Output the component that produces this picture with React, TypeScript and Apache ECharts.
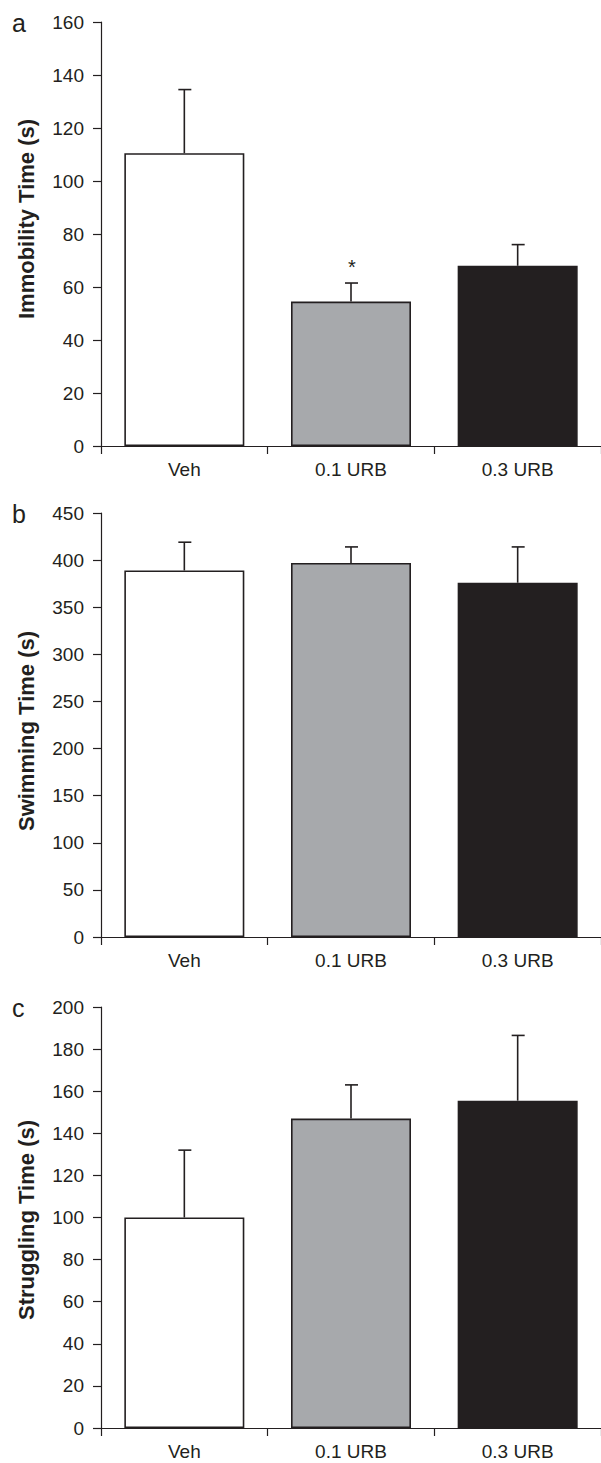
import React, { useEffect, useRef } from "react";
import * as echarts from "echarts";

const categories = ["Veh", "0.1 URB", "0.3 URB"];
const barColors = ["#ffffff", "#a7a9ac", "#231f20"];

const immobilityMean = [110.5, 54.5, 68];
const immobilitySem = [24, 7, 8];
const immobilitySig = ["", "*", ""];

const swimmingMean = [389, 397, 376];
const swimmingSem = [30, 17, 38];
const swimmingSig = ["", "", ""];

const strugglingMean = [100, 147, 155.5];
const strugglingSem = [32, 16, 31];
const strugglingSig = ["", "", ""];

const panelLetters = ["a", "b", "c"];
const yTitles = ["Immobility Time (s)", "Swimming Time (s)", "Struggling Time (s)"];
const yMax = [160, 450, 200];
const yInterval = [20, 50, 20];

const INK = "#231f20";
const FONT = "Liberation Sans, Arial, sans-serif";

export default function App() {
  const ref = useRef<HTMLDivElement>(null);

  useEffect(() => {
    if (!ref.current) return;
    const chart = echarts.init(ref.current, null, { renderer: "svg" });

    const grids = [
      { left: 101, width: 500, top: 22, height: 424 },
      { left: 101, width: 500, top: 513, height: 424 },
      { left: 101, width: 500, top: 1007, height: 421 },
    ];
    const titleCenters = [219, 731, 1220];
    const means = [immobilityMean, swimmingMean, strugglingMean];
    const sems = [immobilitySem, swimmingSem, strugglingSem];
    const sigs = [immobilitySig, swimmingSig, strugglingSig];

    const xAxis = grids.map((_, i) => ({
      type: "category",
      gridIndex: i,
      data: categories,
      boundaryGap: true,
      axisLine: { lineStyle: { color: INK, width: 1.2 } },
      axisTick: { show: true, length: 8, lineStyle: { color: INK, width: 1.2 } },
      axisLabel: { color: INK, fontSize: 19, fontFamily: FONT, margin: 14 },
    }));

    const yAxis = grids.map((_, i) => ({
      type: "value",
      gridIndex: i,
      min: 0,
      max: yMax[i],
      interval: yInterval[i],
      splitLine: { show: false },
      axisLine: { show: true, lineStyle: { color: INK, width: 1.2 } },
      axisTick: { show: true, length: 8, lineStyle: { color: INK, width: 1.2 } },
      axisLabel: { color: INK, fontSize: 19, fontFamily: FONT, margin: 17 },
    }));

    const series: any[] = [];
    grids.forEach((_, i) => {
      series.push({
        type: "bar",
        xAxisIndex: i,
        yAxisIndex: i,
        barWidth: 120,
        data: means[i].map((v, k) => ({
          value: v,
          itemStyle: { color: barColors[k], borderColor: INK, borderWidth: 1.6 },
        })),
        z: 2,
      });
      const sig = sigs[i];
      series.push({
        type: "custom",
        xAxisIndex: i,
        yAxisIndex: i,
        z: 3,
        data: means[i].map((m, k) => [k, m, sems[i][k]]),
        encode: { x: 0, y: 1 },
        renderItem: (params: any, api: any) => {
          const x = api.value(0);
          const m = api.value(1);
          const s = api.value(2);
          const p0 = api.coord([x, m]);
          const p1 = api.coord([x, m + s]);
          const style = { stroke: INK, lineWidth: 1.6 };
          const children: any[] = [
            { type: "line", shape: { x1: p0[0], y1: p0[1], x2: p1[0], y2: p1[1] }, style },
            { type: "line", shape: { x1: p1[0] - 6, y1: p1[1], x2: p1[0] + 7, y2: p1[1] }, style },
          ];
          const mark = sig[params.dataIndex];
          if (mark) {
            children.push({
              type: "text",
              x: p1[0] + 1,
              y: p1[1] - 16,
              style: {
                text: mark,
                fill: INK,
                font: `20px ${FONT}`,
                align: "center",
                verticalAlign: "middle",
              },
            });
          }
          return { type: "group", children };
        },
      });
    });

    const graphic: any[] = [];
    panelLetters.forEach((t, i) => {
      graphic.push({
        type: "text",
        x: 12,
        y: grids[i].top + 1,
        style: { text: t, fill: INK, font: `25px ${FONT}`, verticalAlign: "middle" },
      });
      graphic.push({
        type: "text",
        x: 26,
        y: titleCenters[i],
        rotation: Math.PI / 2,
        style: {
          text: yTitles[i],
          fill: INK,
          font: `bold 22px ${FONT}`,
          align: "center",
          verticalAlign: "middle",
        },
      });
    });

    chart.setOption({
      animation: false,
      backgroundColor: "#ffffff",
      grid: grids,
      xAxis,
      yAxis,
      series,
      graphic,
    });

    return () => chart.dispose();
  }, []);

  return (
    <div
      ref={ref}
      style={{ position: "absolute", left: 0, top: 0, width: 601, height: 1463 }}
    />
  );
}
